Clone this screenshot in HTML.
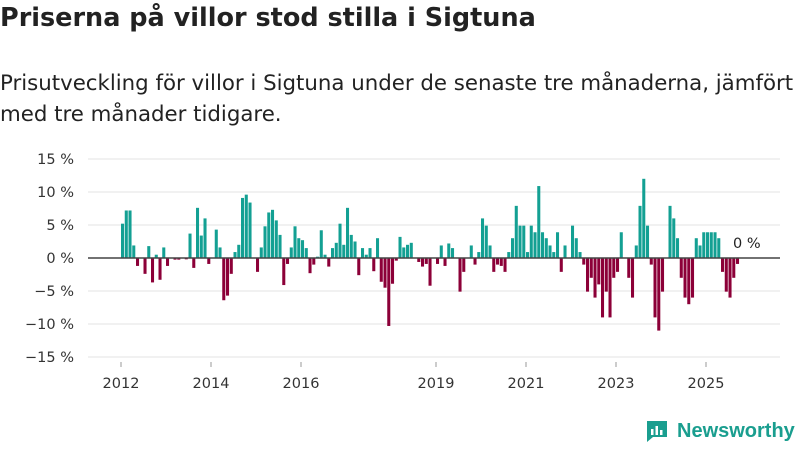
<!DOCTYPE html>
<html><head><meta charset="utf-8"><style>
body{margin:0;width:800px;height:450px;background:#fff;font-family:"DejaVu Sans","Liberation Sans",sans-serif;overflow:hidden;position:relative}
#title{position:absolute;left:0;top:3px;font-size:25.5px;font-weight:bold;color:#222;white-space:nowrap}
#sub{position:absolute;left:0;top:68px;font-size:21.3px;line-height:31px;color:#222;white-space:nowrap}
#logo{position:absolute;left:645px;top:419px;display:flex;align-items:center;gap:8px;color:#1a9e8f;font-size:20px;font-weight:bold;font-family:"Liberation Sans",sans-serif}
</style></head><body>
<div id="title">Priserna på villor stod stilla i Sigtuna</div>
<div id="sub">Prisutveckling för villor i Sigtuna under de senaste tre månaderna, jämfört<br>med tre månader tidigare.</div>
<svg id="chart" width="800" height="450" style="position:absolute;left:0;top:0"></svg>
<div id="logo"><svg width="24" height="24" viewBox="0 0 24 24"><path d="M2 2h20v16H8l-6 5z" fill="#1a9e8f"/><rect x="6" y="10" width="2.5" height="6" fill="#fff"/><rect x="10.5" y="7" width="2.5" height="9" fill="#fff"/><rect x="15" y="11" width="2.5" height="5" fill="#fff"/></svg><span>Newsworthy</span></div>
<script>
const startYear = 2012;
const values = [5.2,7.2,7.2,1.9,-1.2,0,-2.4,1.8,-3.7,0.5,-3.3,1.6,-1.2,0,-0.25,-0.25,0,-0.2,3.7,-1.5,7.6,3.4,6,-0.9,0,4.3,1.6,-6.4,-5.7,-2.4,0.9,2,9.1,9.6,8.4,0,-2.1,1.6,4.8,6.9,7.3,5.7,
3.5,-4.1,-0.9,1.6,4.8,3,2.7,1.5,-2.3,-1,0.2,4.2,0.5,-1.3,1.5,2.3,5.2,2,7.6,3.5,2.5,-2.6,1.5,0.5,1.5,-2,3,-3.6,-4.5,-10.3,-3.9,-0.4,3.2,1.6,2,2.3,0,-0.6,-1.3,-0.9,-4.2,0,
-0.9,1.9,-1.2,2.2,1.5,0,-5.1,-2.1,0,1.9,-1,0.9,6,4.9,1.9,-2.1,-1,-1.2,-2.1,0.9,3,7.9,4.9,4.9,0.9,4.9,3.9,10.9,3.9,3,1.9,0.9,3.9,-2.1,1.9,0,4.9,3,0.9,-1,-5.1,-3,-6,-4,
-9,-5.1,-9,-3,-2.1,3.9,0,-3,-6,1.9,7.9,12,4.9,-1,-9,-11,-5.1,0,7.9,6,3,-3,-6,-7,-6,3,1.9,3.9,3.9,3.9,3.9,3,-2.1,-5.1,-6,-3,-0.9];
const yTicks = [15,10,5,0,-5,-10,-15];
const yTickLabels = ["15 %","10 %","5 %","0 %","−5 %","−10 %","−15 %"];
const xTickYears = [2012,2014,2016,2019,2021,2023,2025];
const lastLabel = "0 %";

const svg = document.getElementById('chart');
const NS = 'http://www.w3.org/2000/svg';
const y = v => 258 - v * 6.6;
const monthW = 3.75;
const x = i => 121 + i * monthW;
function mk(tag, attrs, parent){const e=document.createElementNS(NS,tag);for(const k in attrs)e.setAttribute(k,attrs[k]);(parent||svg).appendChild(e);return e;}
yTicks.forEach((t,i)=>{
  if(t!==0){const l=mk('line',{x1:88,x2:780,y1:y(t),y2:y(t),stroke:'#e3e3e3','stroke-width':1});
  
  }
  const tx=mk('text',{x:74,y:y(t)+5,'text-anchor':'end','font-size':14.5,fill:'#333'});
  tx.textContent=yTickLabels[i];
  
  
});
values.forEach((v,i)=>{
  const r=mk('rect',{x:x(i),width:monthW-0.7,y:Math.min(y(v),y(0)),height:Math.abs(y(v)-y(0)),fill:v>=0?'#13a093':'#8c0038'});
  
  
});
const z=mk('line',{x1:88,x2:780,y1:y(0),y2:y(0),stroke:'#444','stroke-width':1.5});


xTickYears.forEach(yr=>{
  const xx=x((yr-startYear)*12);
  const tk=mk('line',{x1:xx,x2:xx,y1:362,y2:367,stroke:'#999'});
  
  
  const t=mk('text',{x:xx,y:388,'text-anchor':'middle','font-size':14.5,fill:'#333'});
  t.textContent=yr;
  
  
});
const ll=mk('text',{x:x(values.length-1)-3,y:y(values[values.length-1])-16,'font-size':14.5,fill:'#222'});
ll.textContent=lastLabel;


</script>
</body></html>
